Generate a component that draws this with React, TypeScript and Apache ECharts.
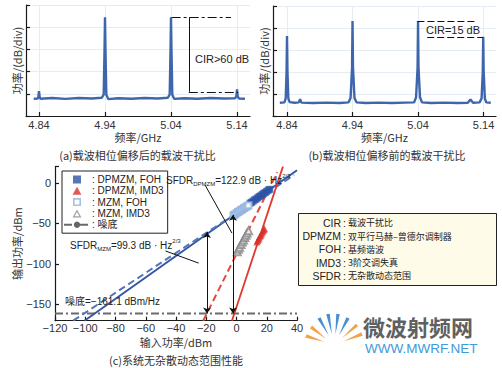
import React, { useEffect, useRef } from 'react';
import * as echarts from 'echarts';

const FONT = "'Liberation Sans', 'Noto Sans CJK SC', sans-serif";
const CJK = "'Noto Sans CJK SC', 'Liberation Sans', sans-serif";

// ---------- (a) / (b) spectra ----------
const topTicks = [4.84, 4.94, 5.04, 5.14];

const spectrumA = [
  [4.832, 7.8], [4.838, 7.9], [4.839, 8.6], [4.84, 11.2], [4.841, 8.6], [4.842, 7.8],
  [4.86, 8.1], [4.88, 7.7], [4.9, 8.1], [4.92, 7.9], [4.935, 8.2], [4.938, 9.6],
  [4.9393, 30], [4.94, 44.5], [4.9407, 30], [4.942, 9.6], [4.945, 7.6], [4.96, 8.0],
  [4.98, 7.8], [5.0, 8.1], [5.02, 7.9], [5.035, 8.2], [5.038, 9.6], [5.0393, 30],
  [5.04, 44.5], [5.0407, 30], [5.042, 9.6], [5.045, 7.7], [5.06, 8.0], [5.08, 7.8],
  [5.1, 8.1], [5.12, 7.9], [5.137, 8.0], [5.139, 8.8], [5.14, 12.0], [5.141, 8.8],
  [5.143, 7.9], [5.152, 7.8],
];

const spectrumB = [
  [4.829, 6.0], [4.836, 6.2], [4.838, 8.0], [4.8393, 20], [4.84, 36.4], [4.8407, 20],
  [4.842, 8.0], [4.844, 6.3], [4.852, 6.0], [4.858, 6.2], [4.86, 7.6], [4.862, 6.1],
  [4.88, 5.9], [4.9, 6.1], [4.92, 5.9], [4.934, 6.2], [4.937, 8.2], [4.9393, 22],
  [4.94, 43.2], [4.9407, 22], [4.943, 8.2], [4.946, 6.2], [4.96, 5.9], [4.98, 6.1],
  [5.0, 5.9], [5.02, 6.1], [5.034, 6.2], [5.037, 8.5], [5.0393, 22], [5.04, 43.2],
  [5.0407, 22], [5.043, 8.5], [5.046, 6.2], [5.06, 5.9], [5.08, 6.1], [5.1, 5.9],
  [5.116, 6.0], [5.12, 7.5], [5.124, 6.0], [5.134, 6.2], [5.137, 8.0], [5.1388, 20],
  [5.1395, 36.0], [5.1402, 20], [5.142, 8.0], [5.144, 6.2], [5.151, 6.0],
];

const cirATop = [[5.041, 44.5], [5.131, 44.5]];
const cirAVert = [[5.067, 44.5], [5.067, 10.9]];
const cirABottom = [[5.067, 10.9], [5.142, 10.9]];
const cirBTop = [[5.039, 43.2], [5.13, 43.2]];
const cirBBottom = [[5.054, 35.9], [5.139, 35.9]];

// ---------- (c) SFDR ----------
const yTicksC = [-150, -100, -50, 0];
const yTickMarksC = [-150, -100, -50, 0, 20];
const noiseFloor = -161.1;

const dpmzmFohFit = [[-100.5, -170], [40, 15.5]];
const mzmFohFit = [[-108, -170], [38, 9.5]];
const mzmImd3Fit = [[-22, -170], [27, 13]];
const dpmzmImd3Fit = [[-3, -170], [30.7, 20]];

const dpmzmFoh = [
  [9, -25], [10, -24], [11, -22.5], [12, -21], [13, -20], [14, -18.5], [15, -17],
  [16, -16], [17, -14.5], [18, -13], [19, -12], [20, -10.5], [21, -9], [22, -8],
];
const mzmFoh = [
  [-2, -40], [-1, -39], [0, -37.5], [1, -36], [2, -35], [3, -33.5], [4, -32.5],
  [5, -31], [6, -30], [7, -29], [8, -27.5],
];
const dpmzmImd3 = [
  [13.5, -73], [14, -71], [14.5, -69.5], [15, -68], [15.5, -66], [16, -64.5],
  [16.5, -63], [17, -61], [17.5, -59.5], [18, -58], [18.5, -56.5],
];
const mzmImd3 = [
  [0.5, -85], [1.3, -82], [2, -79.5], [3, -76], [3.8, -73], [4.6, -70.5],
  [5.5, -67.5], [6.3, -64.5], [7, -62], [8, -59],
];

const sfdrArrows = [
  [[-19.5, -161.1], [-19.5, -60.5]],
  [[-2.3, -161.1], [-2.3, -39.5]],
];
const leaderDpmzm = [[-20.8, -2.7], [-3, -62]];
const leaderMzm = [[-47, -84], [-25, -99]];

const legendNames = ['DPMZM, FOH', 'DPMZM, IMD3', 'MZM, FOH', 'MZM, IMD3', '噪底'];

const glossaryKeys = ['CIR', 'DPMZM', 'FOH', 'IMD3', 'SFDR'];
const glossaryVals = ['载波干扰比', '双平行马赫–曾德尔调制器', '基频谐波', '3阶交调失真', '无杂散动态范围'];

const axisLine = { color: '#1a1a1a', width: 1.2 };
const tickText = { fontSize: 11, color: '#333', fontFamily: FONT };
const nameText = { fontSize: 11, color: '#333', fontFamily: CJK };
const minus = (v: number) => (v < 0 ? '\u2212' + Math.abs(v) : String(v));

const ICON_RECT = 'path://M0,0L10,0L10,10L0,10Z';
const ICON_EMPTY_RECT = 'path://M0,0L10,0L10,10L0,10Z M2,2L2,8L8,8L8,2Z';
const ICON_TRI = 'path://M5,0L10,9L0,9Z';
const ICON_EMPTY_TRI = 'path://M5,0L10,9L0,9Z M5,3L2.3,7.6L7.7,7.6Z';

function topX(idx: number, min: number, max: number) {
  return {
    type: 'value', gridIndex: idx, min, max,
    axisLine: { show: true, onZero: false, lineStyle: axisLine },
    axisTick: { show: true, inside: true, length: 4, customValues: topTicks, lineStyle: axisLine },
    axisLabel: { show: true, customValues: topTicks, margin: 3, formatter: (v: number) => v.toFixed(2), ...tickText },
    splitLine: { show: true, lineStyle: { color: '#e6ecf3', width: 1 } },
    name: '频率/GHz', nameLocation: 'middle', nameGap: 15, nameTextStyle: nameText,
  };
}
function topY(idx: number) {
  return {
    type: 'value', gridIndex: idx, min: 0, max: 50, interval: 10,
    axisLine: { show: true, onZero: false, lineStyle: axisLine },
    axisTick: { show: true, inside: true, length: 4, lineStyle: axisLine },
    axisLabel: { show: false },
    splitLine: { show: true, lineStyle: { color: '#e6ecf3', width: 1 } },
    name: '功率/(dB/div)', nameLocation: 'middle', nameGap: 4, nameRotate: 90, nameTextStyle: nameText,
  };
}

function annLines(xi: number, segs: any[]) {
  return {
    type: 'lines', coordinateSystem: 'cartesian2d', xAxisIndex: xi, yAxisIndex: xi,
    silent: true, z: 5,
    lineStyle: { color: '#111', width: 1, opacity: 1 },
    data: segs,
  };
}

const dashDot = [9, 3, 3, 3];

function buildOption() {
  const graphic: any[] = [];
  const txt = (x: number, y: number, text: string, extra: any = {}) =>
    graphic.push({
      type: 'text', x, y, silent: true, z: 20,
      style: { text, fontSize: 11, fontFamily: FONT, fill: '#222', align: 'left', verticalAlign: 'middle', ...extra },
    });

  // captions
  txt(137.5, 155, '(a)载波相位偏移后的载波干扰比', { align: 'center', fontFamily: CJK, fill: '#333' });
  txt(387, 155, '(b)载波相位偏移前的载波干扰比', { align: 'center', fontFamily: CJK, fill: '#333' });
  txt(176, 360, '(c)系统无杂散动态范围性能', { align: 'center', fontFamily: CJK, fill: '#333' });

  // annotation text
  txt(195, 59, 'CIR>60 dB');
  txt(453, 30, 'CIR=15 dB', { align: 'center' });
  txt(65, 301, '噪底=\u2212161.1 dBm/Hz', { fontSize: 10 });

  const rich = {
    a: { fontSize: 10, fontFamily: FONT, fill: '#222', lineHeight: 14 },
    s: { fontSize: 6, fontFamily: FONT, fill: '#222', lineHeight: 7, verticalAlign: 'bottom' },
    p: { fontSize: 6, fontFamily: FONT, fill: '#222', lineHeight: 7, verticalAlign: 'top' },
  };
  graphic.push({
    type: 'text', x: 166, y: 180, z: 20, silent: true,
    style: { text: '{a|SFDR}{s|DPMZM}{a|=122.9 dB · Hz}{p|2/3}', rich, verticalAlign: 'middle' },
  });
  graphic.push({
    type: 'text', x: 70, y: 245, z: 20, silent: true,
    style: { text: '{a|SFDR}{s|MZM}{a|=99.3 dB · Hz}{p|2/3}', rich, verticalAlign: 'middle' },
  });

  // glossary box
  graphic.push({
    type: 'rect', z: 15, silent: true,
    shape: { x: 298.5, y: 213.5, width: 198, height: 72 },
    style: { fill: '#fffbe9', stroke: '#222', lineWidth: 1 },
  });
  const gLH = 13.2;
  const gTop = 223 - gLH / 2;
  txt(341, gTop, glossaryKeys.join('\n'), { align: 'right', verticalAlign: 'top', fontSize: 10.5, lineHeight: gLH });
  txt(343, gTop, glossaryKeys.map(() => ':').join('\n'), { verticalAlign: 'top', fontSize: 10.5, lineHeight: gLH });
  txt(348, gTop, glossaryVals.join('\n'), { verticalAlign: 'top', fontSize: 9, fontFamily: CJK, lineHeight: gLH });

  // watermark
  const cx = 334, cy = 345;
  const rays: [number, number, string][] = [
    [306, 336, '#f0a24a'], [311, 327, '#f0a24a'], [319, 318, '#4b8fd0'],
    [328, 314, '#4b8fd0'], [338, 314, '#4b8fd0'], [348, 318, '#4b8fd0'],
    [357, 325, '#f0a24a'], [362, 334, '#f0a24a'],
  ];
  rays.forEach(([tx, ty, c]) => {
    const dx = tx - cx, dy = ty - cy;
    const len = Math.sqrt(dx * dx + dy * dy);
    const nx = -dy / len * 1.8, ny = dx / len * 1.8;
    const bx = cx + dx * 0.35, by = cy + dy * 0.35;
    graphic.push({
      type: 'polygon', z: 20, silent: true,
      shape: { points: [[bx, by], [tx + nx, ty + ny], [tx - nx, ty - ny]] },
      style: { fill: c },
    });
  });
  txt(363, 326, '微波射频网', { fontSize: 22, fontWeight: 'bold', fontFamily: CJK, fill: '#606060' });
  txt(365, 348, 'WWW.MWRF.NET', { fontSize: 13.5, fill: '#3e9ad8' });

  return {
    animation: false,
    backgroundColor: '#ffffff',
    grid: [
      { left: 26, top: 5, width: 224, height: 111, outerBoundsMode: 'none' },
      { left: 273, top: 6, width: 223, height: 110, outerBoundsMode: 'none' },
      { left: 55, top: 166.6, width: 242, height: 154.1, outerBoundsMode: 'none' },
    ],
    xAxis: [
      topX(0, 4.8203, 5.1597),
      topX(1, 4.8186, 5.159),
      {
        type: 'value', gridIndex: 2, min: -120, max: 40, interval: 20,
        axisLine: { show: true, onZero: false, lineStyle: axisLine },
        axisTick: { show: true, inside: true, length: 4, lineStyle: axisLine },
        axisLabel: { margin: 2, formatter: minus, ...tickText },
        splitLine: { show: false },
        name: '输入功率/dBm', nameLocation: 'middle', nameGap: 16, nameTextStyle: nameText,
      },
    ],
    yAxis: [
      topY(0),
      topY(1),
      {
        type: 'value', gridIndex: 2, min: -170, max: 20,
        axisLine: { show: true, onZero: false, lineStyle: axisLine },
        axisTick: { show: true, inside: true, length: 4, customValues: yTickMarksC, lineStyle: axisLine },
        axisLabel: { customValues: yTicksC, margin: 4, formatter: minus, ...tickText },
        splitLine: { show: false },
        name: '输出功率/dBm', nameLocation: 'middle', nameGap: 27, nameRotate: 90, nameTextStyle: nameText,
      },
    ],
    legend: {
      data: [
        { name: legendNames[0], icon: ICON_RECT },
        { name: legendNames[1], icon: ICON_TRI },
        { name: legendNames[2], icon: ICON_EMPTY_RECT },
        { name: legendNames[3], icon: ICON_EMPTY_TRI },
        { name: legendNames[4] },
      ],
      orient: 'vertical', left: 62, top: 171,
      itemWidth: 26, itemHeight: 8, itemGap: 0.3,
      symbolKeepAspect: true,
      padding: [3, 4, 3, 1],
      borderColor: '#222', borderWidth: 1, backgroundColor: '#ffffff',
      formatter: (n: string) => ': ' + n,
      textStyle: { fontSize: 10, lineHeight: 11, color: '#222', fontFamily: FONT, padding: [0, 0, 0, -3] },
      selectedMode: false,
    },
    series: [
      { type: 'line', name: 'spectrumA', xAxisIndex: 0, yAxisIndex: 0, data: spectrumA, symbol: 'none', silent: true,
        lineStyle: { color: '#3e66ad', width: 2.4 } },
      { type: 'line', name: 'spectrumB', xAxisIndex: 1, yAxisIndex: 1, data: spectrumB, symbol: 'none', silent: true,
        lineStyle: { color: '#3e66ad', width: 2.4 } },
      annLines(0, [
        { coords: cirATop, lineStyle: { type: dashDot } },
        { coords: cirAVert, lineStyle: { type: 'solid' } },
        { coords: cirABottom, lineStyle: { type: dashDot } },
      ]),
      annLines(1, [
        { coords: cirBTop, lineStyle: { type: [7, 3] } },
        { coords: cirBBottom, lineStyle: { type: [7, 3] } },
      ]),
      // (c)
      { type: 'line', name: '噪底', xAxisIndex: 2, yAxisIndex: 2, data: [[-120, noiseFloor], [40, noiseFloor]],
        symbol: 'none', silent: true, z: 2, itemStyle: { color: '#666' },
        lineStyle: { color: '#6a6a6a', width: 2, type: [8, 3, 2, 3] } },
      { type: 'line', name: 'DPMZM FOH fit', xAxisIndex: 2, yAxisIndex: 2, data: dpmzmFohFit, symbol: 'none', silent: true,
        lineStyle: { color: '#3557a3', width: 2 } },
      { type: 'line', name: 'MZM FOH fit', xAxisIndex: 2, yAxisIndex: 2, data: mzmFohFit, symbol: 'none', silent: true,
        lineStyle: { color: '#5075bb', width: 2, type: [7, 4] } },
      { type: 'line', name: 'MZM IMD3 fit', xAxisIndex: 2, yAxisIndex: 2, data: mzmImd3Fit, symbol: 'none', silent: true,
        lineStyle: { color: '#e5483d', width: 2, type: [7, 4] } },
      { type: 'line', name: 'DPMZM IMD3 fit', xAxisIndex: 2, yAxisIndex: 2, data: dpmzmImd3Fit, symbol: 'none', silent: true,
        lineStyle: { color: '#e03a2f', width: 1.8 } },
      { type: 'scatter', name: 'DPMZM, FOH', xAxisIndex: 2, yAxisIndex: 2, data: dpmzmFoh, symbol: 'rect', symbolSize: 7,
        itemStyle: { color: '#2d54a6' }, z: 4 },
      { type: 'scatter', name: 'DPMZM, IMD3', xAxisIndex: 2, yAxisIndex: 2, data: dpmzmImd3, symbol: 'triangle', symbolSize: 7,
        itemStyle: { color: '#d8322a' }, z: 4 },
      { type: 'scatter', name: 'MZM, FOH', xAxisIndex: 2, yAxisIndex: 2, data: mzmFoh, symbol: 'emptyRect', symbolSize: 6,
        itemStyle: { color: '#8fb1de', borderWidth: 1.2 }, z: 4 },
      { type: 'scatter', name: 'MZM, IMD3', xAxisIndex: 2, yAxisIndex: 2, data: mzmImd3, symbol: 'emptyTriangle', symbolSize: 7,
        itemStyle: { color: '#8a8a8a', borderWidth: 1.2 }, z: 4 },
      {
        type: 'lines', coordinateSystem: 'cartesian2d', xAxisIndex: 2, yAxisIndex: 2, silent: true, z: 6,
        symbol: ['arrow', 'arrow'], symbolSize: 6,
        lineStyle: { color: '#111', width: 1, opacity: 1 },
        data: sfdrArrows.map((c) => ({ coords: c })),
      },
      {
        type: 'lines', coordinateSystem: 'cartesian2d', xAxisIndex: 2, yAxisIndex: 2, silent: true, z: 6,
        lineStyle: { color: '#111', width: 1, opacity: 1 },
        data: [{ coords: leaderDpmzm }, { coords: leaderMzm }],
      },
    ],
    graphic,
  };
}

export default function App() {
  const ref = useRef<HTMLDivElement>(null);
  useEffect(() => {
    const chart = echarts.init(ref.current!, null, { renderer: 'svg', width: 502, height: 368 });
    chart.setOption(buildOption() as any);
    return () => chart.dispose();
  }, []);
  return (
    <div
      ref={ref}
      style={{ position: 'fixed', left: 0, top: 0, width: 502, height: 368, background: '#fff' }}
    />
  );
}
